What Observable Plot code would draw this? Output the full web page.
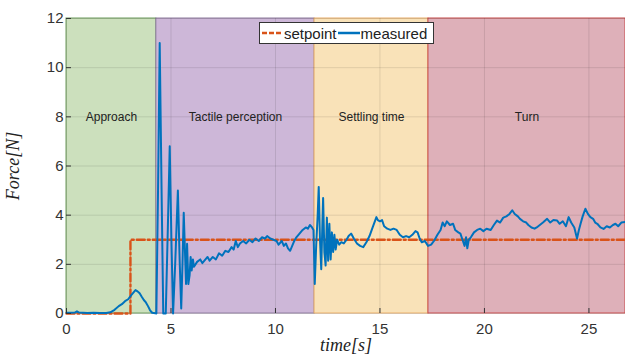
<!DOCTYPE html>
<html>
<head>
<meta charset="utf-8">
<script src="https://cdn.jsdelivr.net/npm/d3@7"></script>
<script src="https://cdn.jsdelivr.net/npm/@observablehq/plot@0.6"></script>
<style>
  body { margin: 0; background: #fff; }
  #wrap { position: relative; width: 625px; height: 356px; }
  #legend {
    position: absolute; left: 259px; top: 22px; width: 173px; height: 20px;
    background: #fff; border: 1px solid #333; box-sizing: content-box;
    font-family: "Liberation Sans", Arial, sans-serif; font-size: 15px; color: #222;
    display: flex; align-items: center; white-space: nowrap;
  }
  #legend svg { display: block; }
</style>
</head>
<body>
<div id="wrap">
  <div id="chart"></div>
  <div id="legend">
    <svg width="24" height="20"><line x1="2" x2="23" y1="10" y2="10" stroke="#D95319" stroke-width="2.5" stroke-dasharray="5,2"/></svg><span>setpoint</span>
    <svg width="24" height="20"><line x1="1" x2="23" y1="10" y2="10" stroke="#0072BD" stroke-width="2.5"/></svg><span>measured</span>
  </div>
</div>
<script>
// Phases
const phaseNames  = ["Approach", "Tactile perception", "Settling time", "Turn"];
const phaseStart  = [0, 4.3, 11.87, 17.32];
const phaseEnd    = [4.3, 11.87, 17.32, 26.75];
const phaseFill   = ["#CCE0BD", "#CDB7D8", "#F9E2B8", "#DEB0B9"];
const phaseStroke = ["#6E9E5E", "#8F7CA0", "#E9AE6A", "#C84A4A"];

// Setpoint
const setT = [0, 3.06, 3.06, 26.75];
const setV = [0, 0, 3, 3];

// Measured force
const measT = [
  0, 0.2, 0.4, 0.5, 0.6, 0.8, 1.0, 1.3, 1.6, 1.9, 2.1, 2.3, 2.5, 2.65, 2.8, 2.95, 3.1, 3.2, 3.3, 3.4, 3.5, 3.6, 3.7, 3.8, 3.9, 4.0, 4.1, 4.25,
  4.3, 4.38, 4.46, 4.55, 4.63, 4.75, 4.85, 4.94, 5.02, 5.1, 5.2, 5.33, 5.42, 5.49, 5.55, 5.61, 5.67, 5.72, 5.77, 5.83, 5.89, 5.94, 5.99, 6.05,
  6.1, 6.25, 6.4, 6.5, 6.6, 6.75, 6.85, 7.0, 7.15, 7.3, 7.45, 7.6, 7.75, 7.9, 8.0, 8.1, 8.2, 8.3, 8.45, 8.6, 8.75, 8.9, 9.05, 9.2, 9.35, 9.5, 9.6, 9.75, 9.9,
  10.05, 10.15, 10.3, 10.4, 10.5, 10.6, 10.7, 10.8, 10.9, 11.0, 11.15, 11.3, 11.45, 11.55, 11.65, 11.75, 11.82,
  11.88, 11.95, 12.02, 12.07, 12.13, 12.19, 12.24, 12.28, 12.34, 12.4, 12.46, 12.52, 12.58, 12.64, 12.7, 12.76, 12.82, 12.88, 12.95,
  13.05, 13.15, 13.27, 13.4, 13.5, 13.62, 13.75, 13.9, 14.05, 14.2, 14.35, 14.5, 14.65, 14.83, 14.9, 15.0, 15.1, 15.2, 15.35, 15.5, 15.65, 15.8, 15.95,
  16.1, 16.25, 16.4, 16.55, 16.7, 16.8, 16.9, 17.0, 17.15, 17.3, 17.45, 17.6, 17.75, 17.9, 18.0, 18.1, 18.2, 18.35, 18.5, 18.6, 18.75, 18.85, 18.95,
  19.05, 19.12, 19.18, 19.25, 19.35, 19.5, 19.65, 19.8, 19.95, 20.1, 20.3, 20.45, 20.6, 20.75, 20.9, 21.05, 21.2, 21.33, 21.45, 21.6, 21.7, 21.85,
  22.0, 22.1, 22.25, 22.4, 22.5, 22.65, 22.8, 23.0, 23.15, 23.3, 23.48, 23.6, 23.75, 23.9, 24.03, 24.15, 24.3, 24.43, 24.52, 24.6, 24.7, 24.83,
  24.95, 25.07, 25.2, 25.3, 25.4, 25.55, 25.7, 25.85, 26.0, 26.15, 26.27, 26.4, 26.55, 26.75
];
const measV = [
  0.03, 0.03, 0.04, 0.09, 0.04, 0.03, 0.02, 0.03, 0.02, 0.02, 0.05, 0.15, 0.3, 0.38, 0.5, 0.58, 0.75, 0.85, 0.95, 0.9, 0.82, 0.68, 0.55, 0.45, 0.3, 0.13, 0.03, 0.01,
  0.0, 5.0, 11.0, 5.0, 0.0, 0.0, 3.5, 6.8, 3.0, 0.0, 2.0, 5.0, 2.0, 0.2, 2.0, 4.1, 2.5, 1.2, 2.84, 1.2, 1.55, 2.3, 1.75, 2.2,
  1.9, 2.1, 2.2, 2.05, 2.15, 2.3, 2.15, 2.3, 2.2, 2.45, 2.35, 2.55, 2.5, 2.7, 2.6, 2.95, 2.7, 2.85, 2.95, 2.85, 3.0, 2.9, 3.05, 2.95, 3.1, 3.05, 3.15, 3.05, 3.0,
  2.95, 2.8, 2.95, 2.75, 2.85, 2.65, 2.55, 2.75, 2.95, 3.1, 3.25, 3.4, 3.5, 3.45, 3.6, 3.5, 3.4,
  1.2, 2.8, 4.0, 5.15, 3.0, 1.8, 3.5, 4.7, 2.5, 1.95, 3.9, 2.15, 3.65, 2.2, 3.3, 2.5, 3.2, 2.6, 3.0,
  2.8, 2.9, 2.85, 3.0, 3.15, 3.25, 3.05, 2.85, 2.75, 2.7, 2.9, 3.15, 3.5, 3.92, 3.8, 3.75, 3.8, 3.55, 3.45, 3.4, 3.45, 3.4, 3.2,
  3.1, 3.15, 3.1, 3.2, 3.35, 3.3, 3.05, 2.9, 2.95, 2.75, 2.8, 2.97, 3.2, 3.4, 3.7, 3.55, 3.75, 3.6, 3.65, 3.4, 3.3, 3.25, 3.0,
  2.75, 3.1, 2.65, 3.0, 3.1, 3.3, 3.4, 3.45, 3.35, 3.45, 3.4, 3.6, 3.78, 3.7, 3.9, 3.95, 4.05, 4.2, 4.05, 3.95, 3.85, 3.75,
  3.7, 3.6, 3.5, 3.45, 3.5, 3.6, 3.7, 3.85, 3.7, 3.8, 3.78, 3.65, 3.75, 3.55, 3.92, 3.7, 3.5, 3.05, 3.4, 3.65, 3.95, 4.26,
  4.05, 3.92, 3.85, 3.7, 3.65, 3.5, 3.44, 3.55, 3.5, 3.6, 3.65, 3.55, 3.7, 3.72
];

const xTicks = [0, 5, 10, 15, 20, 25];
const yTicks = [0, 2, 4, 6, 8, 10, 12];

const phases = phaseNames.map((name, i) => ({name, start: phaseStart[i], end: phaseEnd[i], fill: phaseFill[i], stroke: phaseStroke[i], mid: (phaseStart[i] + phaseEnd[i]) / 2}));
const setpoint = setT.map((t, i) => ({t, v: setV[i]}));
const measured = measT.map((t, i) => ({t, v: measV[i]}));

const sans = "Liberation Sans, Arial, sans-serif";
const serif = "Liberation Serif, Times New Roman, serif";

const chart = Plot.plot({
  width: 625,
  height: 356,
  marginLeft: 66,
  marginRight: 0,
  marginTop: 18,
  marginBottom: 43,
  style: {background: "#fff", fontFamily: sans},
  x: {domain: [0, 26.75]},
  y: {domain: [0, 12]},
  color: {type: "identity"},
  marks: [
    Plot.rect(phases, {x1: "start", x2: "end", fill: "fill", stroke: "stroke", strokeWidth: 1}),
    Plot.gridX(xTicks, {stroke: "#000", strokeOpacity: 0.1}),
    Plot.gridY(yTicks, {stroke: "#000", strokeOpacity: 0.1}),
    Plot.text(phases, {x: "mid", y: () => 8, text: "name", fontSize: 12, fill: "#222", fontFamily: sans}),
    Plot.line(setpoint, {x: "t", y: "v", stroke: "#D95319", strokeWidth: 2.4, strokeDasharray: "8,3,2,3"}),
    Plot.line(measured, {x: "t", y: "v", stroke: "#0072BD", strokeWidth: 2}),
    Plot.axisX({ticks: xTicks, tickSize: -5, tickPadding: 15, fontSize: 15, fill: "#333", stroke: "#333", label: null}),
    Plot.axisY({ticks: yTicks, tickSize: -5, tickPadding: 8, fontSize: 15, fill: "#333", stroke: "#333", label: null}),
    Plot.axisX({ticks: [], tickSize: 0, label: "time[s]", labelAnchor: "center", labelArrow: "none", labelOffset: 37, fontSize: 18, fontFamily: serif, fontStyle: "italic", fill: "#222"}),
    Plot.axisY({ticks: [], tickSize: 0, label: "Force[N]", labelAnchor: "center", labelArrow: "none", labelOffset: 60, fontSize: 18, fontFamily: serif, fontStyle: "italic", fill: "#222"})
  ]
});
document.getElementById("chart").appendChild(chart);
</script>
</body>
</html>
